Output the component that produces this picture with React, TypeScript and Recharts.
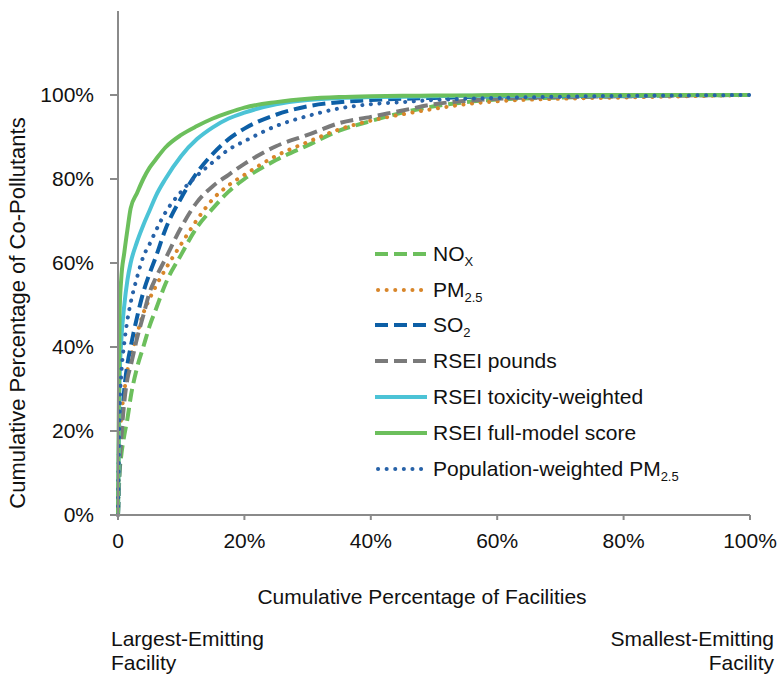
import React from 'react'
import { LineChart, Line, XAxis, YAxis } from 'recharts'

const FONT = '"Liberation Sans", Arial, Helvetica, sans-serif'

// cumulative % of facilities (largest emitter first)
const X_PCT = [0, 0.25, 0.5, 1, 1.5, 2, 3, 4, 5, 6, 7.5, 10, 12.5, 15, 17.5, 20, 25, 30, 35, 40, 45, 50, 55, 60, 70, 80, 90, 100]

// cumulative % of each co-pollutant
const NOX       = [0, 10, 14, 19, 23, 28, 35, 40, 45, 49, 55, 62, 68.5, 73, 77, 80, 84.5, 88, 91.5, 93.8, 95.8, 97.3, 98.3, 98.9, 99.4, 99.7, 99.9, 100]
const PM25      = [0, 17, 23, 29.5, 34.5, 37.5, 43, 48, 51.5, 54.5, 58.5, 64.5, 70.3, 75.2, 78.5, 81, 85.5, 88.8, 91.8, 93.9, 95.4, 96.7, 97.8, 98.5, 99.1, 99.4, 99.7, 100]
const SO2       = [0, 13, 20, 30, 36, 40, 47, 53, 57.5, 61.5, 68, 75.5, 81.5, 86, 89.5, 92, 95.3, 97.3, 98.3, 98.8, 99.1, 99.3, 99.5, 99.7, 99.8, 99.9, 100, 100]
const RSEI_LBS  = [0, 12, 18, 27, 32.5, 35.5, 42, 47.5, 53, 56.5, 61, 68.5, 74.5, 78.3, 81, 83.6, 87.8, 90.5, 93.3, 94.8, 96.3, 97.8, 98.6, 99.1, 99.5, 99.7, 99.9, 100]
const RSEI_TOX  = [0, 32, 41, 50, 56, 60, 65, 69, 72.5, 76, 80, 85.5, 89.5, 92.3, 94.4, 95.8, 97.8, 98.8, 99.3, 99.5, 99.6, 99.7, 99.8, 99.8, 99.9, 99.9, 100, 100]
const RSEI_FULL = [0, 48, 56, 62.5, 68, 73, 76.6, 80, 82.7, 84.7, 87.5, 90.5, 92.6, 94.4, 95.8, 97, 98.3, 99.1, 99.5, 99.7, 99.8, 99.9, 99.9, 100, 100, 100, 100, 100]
const POP_PM25  = [0, 25, 33, 41, 46.5, 50.5, 56.5, 61.5, 64.5, 67.7, 72, 77, 80.8, 84, 87, 89, 92.6, 95, 96.8, 97.8, 98.3, 98.8, 99.1, 99.3, 99.6, 99.8, 99.9, 100]

const X_TICKS = [0, 20, 40, 60, 80, 100]
const Y_TICKS = [0, 20, 40, 60, 80, 100]

const data = X_PCT.map((x, i) => ({
  x,
  nox: NOX[i],
  pm25: PM25[i],
  so2: SO2[i],
  rseiLbs: RSEI_LBS[i],
  rseiTox: RSEI_TOX[i],
  rseiFull: RSEI_FULL[i],
  popPm25: POP_PM25[i],
}))

type Series = {
  key: string
  name: string
  sub?: string
  color: string
  width: number
  dash?: string
  round?: boolean
}

const SERIES: Series[] = [
  { key: 'nox', name: 'NO', sub: 'X', color: '#6cbf5c', width: 4, dash: '13 6' },
  { key: 'pm25', name: 'PM', sub: '2.5', color: '#d8862a', width: 4, dash: '0.1 8.5', round: true },
  { key: 'so2', name: 'SO', sub: '2', color: '#0d5fa6', width: 4, dash: '13 6' },
  { key: 'rseiLbs', name: 'RSEI pounds', color: '#7a7a7a', width: 4, dash: '13 6' },
  { key: 'rseiTox', name: 'RSEI toxicity-weighted', color: '#4cc3d6', width: 4 },
  { key: 'rseiFull', name: 'RSEI full-model score', color: '#6cbf5c', width: 4 },
  { key: 'popPm25', name: 'Population-weighted PM', sub: '2.5', color: '#2762a8', width: 4, dash: '0.1 8.5', round: true },
]

const AXIS_COLOR = '#8a8a8a'
const TICK_STYLE = { fontSize: 21, fill: '#111', fontFamily: FONT }

function LegendBox() {
  return (
    <div style={{ position: 'absolute', left: 375, top: 236, fontFamily: FONT, fontSize: 21, color: '#111' }}>
      {SERIES.map((s) => (
        <div key={s.key} style={{ display: 'flex', alignItems: 'center', height: 35.8 }}>
          <svg width={52} height={10} style={{ marginRight: 6 }}>
            <line
              x1={s.round ? 3 : 0}
              x2={52}
              y1={5}
              y2={5}
              stroke={s.color}
              strokeWidth={s.width}
              strokeDasharray={s.dash}
              strokeLinecap={s.round ? 'round' : 'butt'}
            />
          </svg>
          <span style={{ whiteSpace: 'nowrap' }}>
            {s.name}
            {s.sub && <sub style={{ fontSize: 13, verticalAlign: -5, lineHeight: 0 }}>{s.sub}</sub>}
          </span>
        </div>
      ))}
    </div>
  )
}

export default function App() {
  return (
    <div style={{ position: 'absolute', left: 0, top: 0, width: 781, height: 680, background: '#fff', fontFamily: FONT }}>
      <LineChart width={781} height={680} data={data} margin={{ top: 11, right: 31, left: 58, bottom: 125 }}>
        <XAxis
          dataKey="x"
          type="number"
          domain={[0, 100]}
          ticks={X_TICKS}
          tickFormatter={(v) => (v === 0 ? '0' : `${v}%`)}
          height={40}
          tick={TICK_STYLE}
          tickSize={5}
          tickMargin={13}
          stroke={AXIS_COLOR}
          strokeWidth={2}
          interval={0}
        />
        <YAxis
          type="number"
          domain={[0, 120]}
          ticks={Y_TICKS}
          tickFormatter={(v) => `${v}%`}
          width={60}
          tick={TICK_STYLE}
          tickSize={8}
          tickMargin={16}
          stroke={AXIS_COLOR}
          strokeWidth={2}
          interval={0}
        />
        {SERIES.map((s) => (
          <Line
            key={s.key}
            dataKey={s.key}
            type="monotone"
            stroke={s.color}
            strokeWidth={s.width}
            strokeDasharray={s.dash}
            strokeLinecap={s.round ? 'round' : 'butt'}
            dot={false}
            activeDot={false}
            isAnimationActive={false}
          />
        ))}
      </LineChart>

      <LegendBox />

      {/* axis titles */}
      <div
        style={{
          position: 'absolute', left: 18 - 250, top: 313 - 12, width: 500, height: 24, lineHeight: '24px',
          textAlign: 'center', fontSize: 22, color: '#111', transform: 'rotate(-90deg)', whiteSpace: 'nowrap',
        }}
      >
        Cumulative Percentage of Co-Pollutants
      </div>
      <div
        style={{
          position: 'absolute', left: 422 - 250, top: 585, width: 500, lineHeight: '24px',
          textAlign: 'center', fontSize: 21, color: '#111', whiteSpace: 'nowrap',
        }}
      >
        Cumulative Percentage of Facilities
      </div>
      <div style={{ position: 'absolute', left: 111, top: 627, lineHeight: '24px', fontSize: 21, color: '#111' }}>
        Largest-Emitting<br />Facility
      </div>
      <div style={{ position: 'absolute', right: 781 - 774, top: 627, lineHeight: '24px', fontSize: 21, color: '#111', textAlign: 'right' }}>
        Smallest-Emitting<br />Facility
      </div>
    </div>
  )
}
